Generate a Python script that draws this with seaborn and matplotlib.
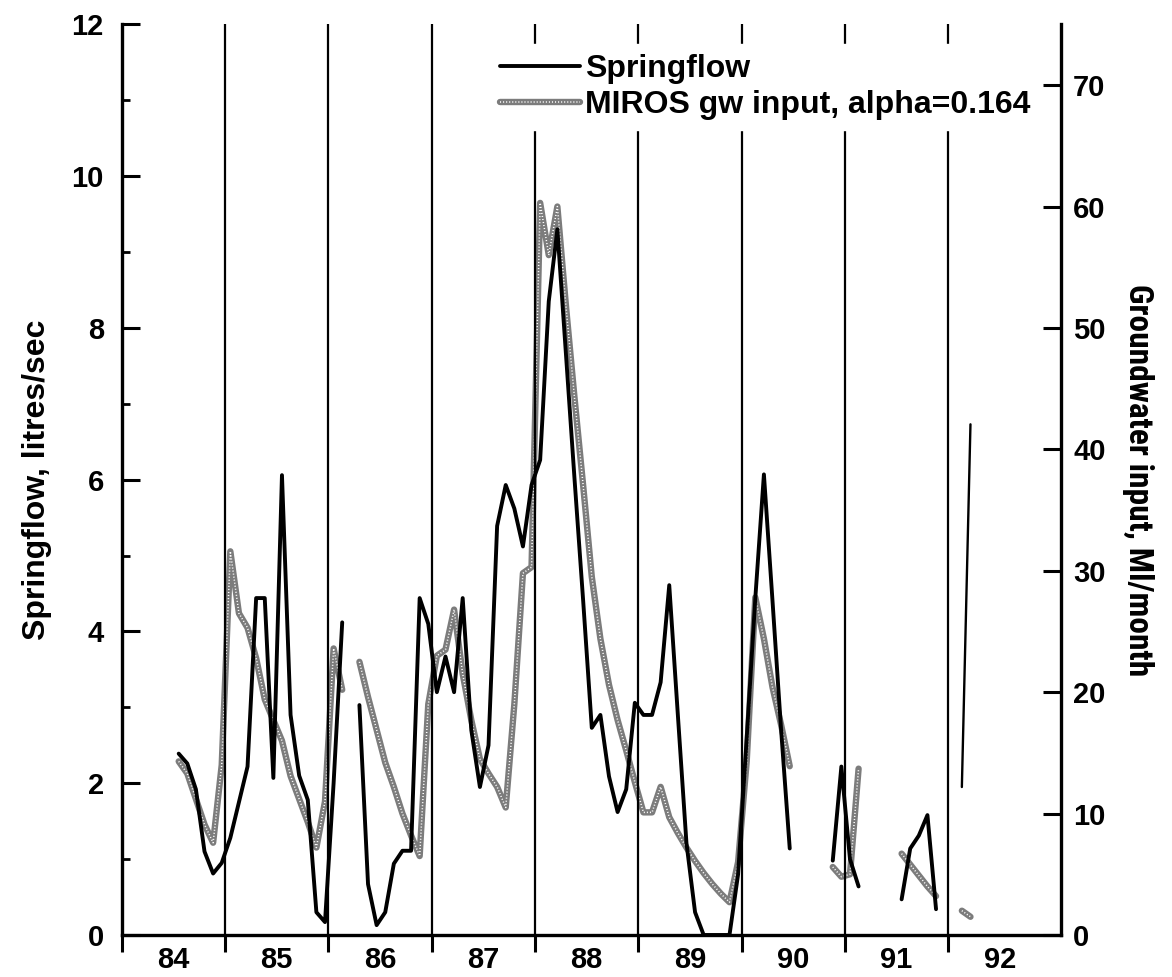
import numpy as np
import pandas as pd
import matplotlib
matplotlib.use("Agg")
import matplotlib.pyplot as plt
import seaborn as sns
from matplotlib.lines import Line2D
from matplotlib.ticker import MultipleLocator, FixedLocator, NullFormatter, FixedFormatter
from matplotlib import font_manager

nan = np.nan

# ---------------- data (monthly, starting July 1984) ----------------
start_year, start_month = 1984, 7

springflow = [  # litres/sec
    2.39, 2.26, 1.92, 1.10, 0.81, 0.95,                                   # 1984 Jul-Dec
    1.28, 1.75, 2.22, 4.44, 4.44, 2.07, 6.06, 2.90, 2.10, 1.78, 0.30, 0.17,  # 1985
    2.00, 4.12, nan, 3.03, 0.67, 0.13, 0.30, 0.94, 1.11, 1.11, 4.44, 4.10,   # 1986
    3.20, 3.67, 3.20, 4.44, 2.70, 1.95, 2.50, 5.39, 5.93, 5.62, 5.12, 5.93,  # 1987
    6.26, 8.35, 9.30, 7.65, 6.00, 4.40, 2.73, 2.90, 2.09, 1.62, 1.92, 3.06,  # 1988
    2.90, 2.90, 3.33, 4.61, 2.90, 1.21, 0.30, 0.00, 0.00, 0.00, 0.00, 0.80,  # 1989
    2.60, 4.44, 6.07, 4.40, 2.70, 1.14, nan, nan, nan, nan, 0.98, 2.22,      # 1990
    1.00, 0.64, nan, nan, nan, nan, 0.47, 1.14, 1.31, 1.58, 0.34, nan,       # 1991
    nan, 1.95, 6.73,                                                      # 1992 Jan-Mar
]

gw_input = [  # Ml/month, MIROS groundwater input
    14.3, 13.3, 11.2, 9.1, 7.6, 14.0,                                     # 1984 Jul-Dec
    31.6, 26.5, 25.3, 22.8, 19.4, 17.7, 16.0, 13.1, 11.2, 9.3, 7.2, 11.0,   # 1985
    23.6, 20.2, nan, 22.5, 19.6, 16.9, 14.2, 12.2, 10.0, 8.2, 6.5, 19.0,    # 1986
    23.0, 23.5, 26.8, 21.5, 17.7, 14.5, 13.3, 12.2, 10.5, 19.0, 29.8, 30.3, # 1987
    60.3, 56.0, 60.0, 51.8, 44.2, 37.0, 29.5, 24.4, 20.6, 17.7, 15.2, 12.6, # 1988
    10.1, 10.1, 12.2, 9.7, 8.4, 7.2, 6.1, 5.1, 4.2, 3.4, 2.7, 6.0,          # 1989
    14.3, 27.8, 24.4, 20.4, 17.3, 13.9, nan, nan, nan, nan, 5.6, 4.8,       # 1990
    5.0, 13.7, nan, nan, nan, nan, 6.7, 5.8, 4.9, 4.0, 3.2, nan,            # 1991
    nan, 2.0, 1.5,                                                       # 1992 Jan-Mar
]

year_labels = ["84", "85", "86", "87", "88", "89", "90", "91", "92"]
legend_labels = ["Springflow", "MIROS gw input, alpha=0.164"]
left_label = "Springflow, litres/sec"
right_label = "Groundwater input, Ml/month"

# ---------------- frame ----------------
n = len(springflow)
t = np.arange(n) + (start_month - 1)
xyear = (start_year - 1900) + (t + 0.6) / 12.0
df = pd.DataFrame({"x": xyear, "spring": springflow, "gw": gw_input})
df["seg_s"] = df["spring"].isna().cumsum()
df["seg_g"] = df["gw"].isna().cumsum()
first_year = int(year_labels[0])
years = [int(y) for y in year_labels]

sns.set_theme(style="ticks")
available = {f.name for f in font_manager.fontManager.ttflist}
plt.rcParams["font.family"] = ["Liberation Sans", "DejaVu Sans"]
for k in ["text.color", "axes.labelcolor", "xtick.color", "ytick.color", "axes.edgecolor"]:
    plt.rcParams[k] = "black"
narrow = None
for cand in ["Liberation Sans Narrow", "Roboto Condensed", "Open Sans Condensed"]:
    if cand in available:
        narrow = cand
        break

GRAY = "#7c7c7c"
GW_LW = 4.6
DOT = (0, (0.7, 1.3))

fig = plt.figure(figsize=(11.72, 9.77), dpi=100)
ax = fig.add_axes([0.104, 0.043, 0.801, 0.932])
ax2 = ax.twinx()
ax.set_zorder(ax2.get_zorder() + 1)
ax.patch.set_visible(False)

# gray textured groundwater line (right axis)
gsub = df.dropna(subset=["gw"])
sns.lineplot(data=gsub, x="x", y="gw", units="seg_g", estimator=None, sort=False,
             color=GRAY, lw=GW_LW, ax=ax2, legend=False)
sns.lineplot(data=gsub, x="x", y="gw", units="seg_g", estimator=None, sort=False,
             color="white", lw=1.1, linestyle=DOT, ax=ax2, legend=False)

# black springflow line (left axis)
ssub = df.dropna(subset=["spring"])
main = ssub[ssub["x"] < years[-1]]
last = ssub[ssub["x"] >= years[-1]]
sns.lineplot(data=main, x="x", y="spring", units="seg_s", estimator=None, sort=False,
             color="black", lw=2.8, ax=ax, legend=False)
sns.lineplot(data=last, x="x", y="spring", units="seg_s", estimator=None, sort=False,
             color="black", lw=1.7, ax=ax, legend=False)

# year boundary lines
for yb in years[1:]:
    ax.axvline(yb, color="black", lw=1.6, zorder=1)

# axes limits / ticks
ax.set_xlim(first_year, years[-1] + 1.09)
ax.set_ylim(0, 12)
ax2.set_ylim(0, 75)

ax.xaxis.set_major_locator(FixedLocator(years))
ax.xaxis.set_major_formatter(NullFormatter())
ax.xaxis.set_minor_locator(FixedLocator([y + 0.5 for y in years]))
ax.xaxis.set_minor_formatter(FixedFormatter(year_labels))
ax.tick_params(axis="x", which="major", direction="out", length=12, width=2.2)
ax.tick_params(axis="x", which="minor", length=0, pad=8, labelsize=21)

ax.yaxis.set_major_locator(MultipleLocator(2))
ax.yaxis.set_minor_locator(MultipleLocator(1))
ax.tick_params(axis="y", which="major", direction="in", length=13, width=2.2,
               labelsize=21, pad=13)
ax.tick_params(axis="y", which="minor", direction="in", length=6, width=2.0)

ax2.set_yticks(np.arange(0, 71, 10))
ax2.tick_params(axis="y", which="major", direction="in", length=13, width=2.2,
                labelsize=21, pad=9)
ax2.tick_params(axis="y", which="minor", length=0)

for lab in ax.get_xticklabels(minor=True) + ax.get_yticklabels() + ax2.get_yticklabels():
    lab.set_fontweight("bold")

for s in ["top", "right"]:
    ax.spines[s].set_visible(False)
for s in ["top", "left", "bottom"]:
    ax2.spines[s].set_visible(False)
ax.spines["left"].set_linewidth(2.4)
ax.spines["bottom"].set_linewidth(2.4)
ax2.spines["right"].set_linewidth(2.4)

ax.set_xlabel("")
ax.set_ylabel(left_label, fontsize=23, fontweight="bold", labelpad=14)
if narrow:
    ax2.set_ylabel(right_label, fontsize=24, fontweight="bold", rotation=270,
                   va="bottom", labelpad=12, family=[narrow, "DejaVu Sans"])
else:
    ax2.set_ylabel(right_label, fontsize=21, fontweight="bold", rotation=270,
                   va="bottom", labelpad=12, fontstretch="condensed")

# legend
h1 = Line2D([], [], color="black", lw=2.8)
g_base = Line2D([], [], color=GRAY, lw=GW_LW)
g_top = Line2D([], [], color="white", lw=1.1, linestyle=DOT)
leg = ax.legend([h1, (g_base, g_top)], legend_labels, loc="upper right",
                bbox_to_anchor=(0.978, 0.978), frameon=True, fancybox=False,
                facecolor="white", edgecolor="white", framealpha=1,
                prop={"size": 23, "weight": "bold"}, handlelength=2.5,
                handletextpad=0.15, labelspacing=0.2, borderpad=0.3,
                borderaxespad=0.0)

fig.savefig("out.png", dpi=100)
